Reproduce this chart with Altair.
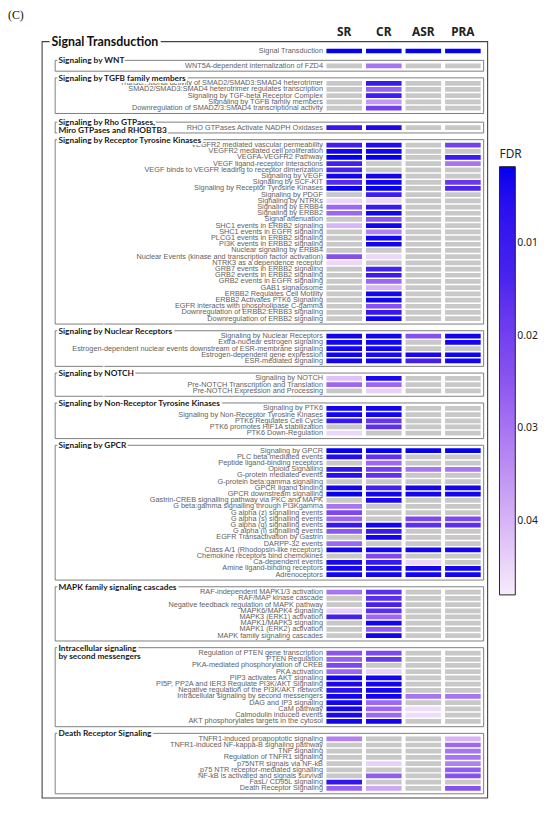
import altair as alt
import pandas as pd

# ---------------- data ----------------
columns = ["SR", "CR", "ASR", "PRA"]

group_titles = [
    "Signaling by WNT",
    "Signaling by TGFB family members",
    "Signaling by Rho GTPases,\nMiro GTPases and RHOBTB3",
    "Signaling by Receptor Tyrosine Kinases",
    "Signaling by Nuclear Receptors",
    "Signaling by NOTCH",
    "Signaling by Non-Receptor Tyrosine Kinases",
    "Signaling by GPCR",
    "MAPK family signaling cascades",
    "Intracellular signaling\nby second messengers",
    "Death Receptor Signaling",
]
group_sizes = [1, 5, 1, 29, 5, 3, 5, 21, 8, 12, 9]

top_pathway = "Signal Transduction"
top_fdr = [0.002, 0.002, 0.002, 0.002]

pathways = [
    # WNT
    "WNT5A-dependent internalization of FZD4",
    # TGFB
    "Transcriptional activity of SMAD2/SMAD3:SMAD4 heterotrimer",
    "SMAD2/SMAD3:SMAD4 heterotrimer regulates transcription",
    "Signaling by TGF-beta Receptor Complex",
    "Signaling by TGFB family members",
    "Downregulation of SMAD2/3:SMAD4 transcriptional activity",
    # Rho
    "RHO GTPases Activate NADPH Oxidases",
    # RTK
    "VEGFR2 mediated vascular permeability",
    "VEGFR2 mediated cell proliferation",
    "VEGFA-VEGFR2 Pathway",
    "VEGF ligand-receptor interactions",
    "VEGF binds to VEGFR leading to receptor dimerization",
    "Signaling by VEGF",
    "Signaling by SCF-KIT",
    "Signaling by Receptor Tyrosine Kinases",
    "Signaling by PDGF",
    "Signaling by NTRKs",
    "Signaling by ERBB4",
    "Signaling by ERBB2",
    "Signal attenuation",
    "SHC1 events in ERBB2 signaling",
    "SHC1 events in EGFR signaling",
    "PLCG1 events in ERBB2 signaling",
    "PI3K events in ERBB2 signaling",
    "Nuclear signaling by ERBB4",
    "Nuclear Events (kinase and transcription factor activation)",
    "NTRK3 as a dependence receptor",
    "GRB7 events in ERBB2 signaling",
    "GRB2 events in ERBB2 signaling",
    "GRB2 events in EGFR signaling",
    "GAB1 signalosome",
    "ERBB2 Regulates Cell Motility",
    "ERBB2 Activates PTK6 Signaling",
    "EGFR interacts with phospholipase C-gamma",
    "Downregulation of ERBB2:ERBB3 signaling",
    "Downregulation of ERBB2 signaling",
    # Nuclear receptors
    "Signaling by Nuclear Receptors",
    "Extra-nuclear estrogen signaling",
    "Estrogen-dependent nuclear events downstream of ESR-membrane signaling",
    "Estrogen-dependent gene expression",
    "ESR-mediated signaling",
    # NOTCH
    "Signaling by NOTCH",
    "Pre-NOTCH Transcription and Translation",
    "Pre-NOTCH Expression and Processing",
    # Non-receptor TK
    "Signaling by PTK6",
    "Signaling by Non-Receptor Tyrosine Kinases",
    "PTK6 Regulates Cell Cycle",
    "PTK6 promotes HIF1A stabilization",
    "PTK6 Down-Regulation",
    # GPCR
    "Signaling by GPCR",
    "PLC beta mediated events",
    "Peptide ligand-binding receptors",
    "Opioid Signalling",
    "G-protein mediated events",
    "G-protein beta:gamma signalling",
    "GPCR ligand binding",
    "GPCR downstream signalling",
    "Gastrin-CREB signalling pathway via PKC and MAPK",
    "G beta:gamma signalling through PI3Kgamma",
    "G alpha (z) signalling events",
    "G alpha (s) signalling events",
    "G alpha (q) signalling events",
    "G alpha (i) signalling events",
    "EGFR Transactivation by Gastrin",
    "DARPP-32 events",
    "Class A/1 (Rhodopsin-like receptors)",
    "Chemokine receptors bind chemokines",
    "Ca-dependent events",
    "Amine ligand-binding receptors",
    "Adrenoceptors",
    # MAPK
    "RAF-independent MAPK1/3 activation",
    "RAF/MAP kinase cascade",
    "Negative feedback regulation of MAPK pathway",
    "MAPK6/MAPK4 signaling",
    "MAPK3 (ERK1) activation",
    "MAPK1/MAPK3 signaling",
    "MAPK1 (ERK2) activation",
    "MAPK family signaling cascades",
    # Intracellular
    "Regulation of PTEN gene transcription",
    "PTEN Regulation",
    "PKA-mediated phosphorylation of CREB",
    "PKA activation",
    "PIP3 activates AKT signaling",
    "PI5P, PP2A and IER3 Regulate PI3K/AKT Signaling",
    "Negative regulation of the PI3K/AKT network",
    "Intracellular signaling by second messengers",
    "DAG and IP3 signaling",
    "CaM pathway",
    "Calmodulin induced events",
    "AKT phosphorylates targets in the cytosol",
    # Death receptor
    "TNFR1-induced proapoptotic signaling",
    "TNFR1-induced NF-kappa-B signaling pathway",
    "TNF signaling",
    "Regulation of TNFR1 signaling",
    "p75NTR signals via NF-kB",
    "p75 NTR receptor-mediated signalling",
    "NF-kB is activated and signals survival",
    "FasL/ CD95L signaling",
    "Death Receptor Signaling",
]

N = None
fdr_SR = [
    N,
    N, N, N, N, N,
    0.009,
    0.012, 0.003, 0.002, 0.012, 0.013, 0.003, 0.015, 0.002, N, 0.045,
    0.028, 0.028, N, 0.040, N, N, N, N, 0.024, 0.045, N, N, N, N, N, N, N, N, N,
    0.003, 0.003, 0.003, 0.003, 0.003,
    0.042, 0.028, N,
    0.003, 0.003, 0.009, N, 0.045,
    0.002, 0.005, N, 0.008, 0.006, N, 0.003, 0.002, N, 0.030, 0.022, 0.028,
    0.009, 0.025, N, 0.028, 0.003, N, 0.004, 0.003, 0.003,
    0.030, N, N, 0.044, 0.013, N, N, N,
    0.025, 0.027, 0.022, 0.028, 0.003, 0.004, 0.006, 0.003, 0.003, 0.003, 0.004, 0.003,
    0.032, N, N, N, N, N, N, 0.008, 0.027,
]
fdr_CR = [
    0.030,
    0.009, 0.027, 0.011, 0.036, 0.020,
    0.004,
    0.005, 0.003, 0.002, N, N, 0.003, 0.003, 0.002, 0.011, 0.045,
    0.010, 0.003, 0.025, 0.003, 0.032, 0.003, 0.003, N, 0.045, N, 0.013, 0.010, 0.028, 0.040, 0.003, 0.003, 0.024, 0.009, 0.003,
    0.003, 0.003, 0.003, 0.004, 0.003,
    0.004, 0.028, 0.044,
    0.003, 0.003, 0.018, 0.016, N,
    0.002, 0.017, 0.028, 0.020, 0.017, N, 0.013, 0.003, 0.004, N, N, N,
    0.003, 0.010, 0.003, N, 0.003, 0.022, 0.009, 0.003, 0.003,
    0.016, 0.016, 0.013, 0.016, 0.028, 0.003, 0.026, 0.003,
    0.022, 0.018, N, 0.044, 0.003, 0.003, 0.003, 0.003, 0.028, 0.028, 0.028, 0.003,
    N, N, N, N, 0.044, N, 0.026, N, 0.038,
]
fdr_ASR = [
    N,
    N, N, N, N, N,
    N,
    N, N, N, N, N, N, N, N, N, N,
    N, N, N, N, N, N, N, N, N, N, N, N, N, N, N, N, N, N, N,
    0.024, N, N, 0.004, 0.012,
    N, N, N,
    N, N, N, N, N,
    0.002, N, N, 0.030, N, N, 0.003, 0.003, N, N, N, 0.022,
    0.016, N, N, N, 0.003, N, 0.045, 0.003, 0.003,
    N, N, N, N, N, N, N, N,
    N, N, N, N, N, N, N, 0.030, N, 0.046, 0.046, N,
    N, N, N, N, N, N, N, N, N,
]
fdr_PRA = [
    N,
    N, N, N, N, N,
    N,
    0.020, N, 0.010, 0.030, N, N, 0.018, 0.014, N, N,
    N, N, N, N, N, N, N, N, N, N, N, N, N, N, N, N, N, N, N,
    0.003, 0.003, N, 0.003, 0.003,
    N, N, N,
    N, N, N, N, N,
    0.002, N, N, 0.030, N, N, 0.003, 0.003, N, N, N, 0.022,
    0.016, N, N, N, 0.003, N, N, 0.003, 0.003,
    N, N, N, N, N, N, N, N,
    N, N, N, N, N, N, N, 0.030, N, N, N, N,
    0.040, 0.028, 0.030, 0.030, 0.032, 0.026, 0.024, N, 0.024,
]

# ---------------- layout (reference-pixel units) ----------------
PITCH = 6.3
Y_TOP_ROW = 47.2
CELL_HALF = 2.4
BOX_PAD = 5.5
LABEL_RIGHT = 318.5        # right edge of the row labels (chart px)
SUB_LEFT, SUB_RIGHT = 47.7, 481.0
OUT_LEFT, OUT_RIGHT = 34.5, 485.0


def row_center(k, g):
    y = Y_TOP_ROW + PITCH * k
    if g >= 1:
        y += 8.7 + 11.5 * (g - 1)
    if g >= 3:
        y += 2.0
    return y


rows = [{"pathway": top_pathway, "g": 0, "yc": row_center(0, 0),
         **{c: v for c, v in zip(columns, top_fdr)}}]
k = 1
i = 0
boxes = []
for gi, (title, size) in enumerate(zip(group_titles, group_sizes), start=1):
    first = row_center(k, gi)
    for _ in range(size):
        rows.append({"pathway": pathways[i], "g": gi, "yc": row_center(k, gi),
                     "SR": fdr_SR[i], "CR": fdr_CR[i], "ASR": fdr_ASR[i], "PRA": fdr_PRA[i]})
        k += 1
        i += 1
    last = row_center(k - 1, gi)
    boxes.append({"title": title, "top": first - BOX_PAD, "bottom": last + BOX_PAD})

rows_df = pd.DataFrame(rows)
cells = rows_df.melt(id_vars=["pathway", "g", "yc"], value_vars=columns,
                     var_name="col", value_name="fdr")
cells["y1"] = cells["yc"] - CELL_HALF
cells["y2"] = cells["yc"] + CELL_HALF
cells_na = cells[cells["fdr"].isna()]
cells_val = cells[cells["fdr"].notna()]

box_df = pd.DataFrame(boxes)
title_rows = []
for b in boxes:
    for li, line in enumerate(b["title"].split("\n")):
        title_rows.append({"t": line, "y": b["top"] + 8.3 * li})
title_df = pd.DataFrame(title_rows)

outer_df = pd.DataFrame([{"top": 37.7, "bottom": boxes[-1]["bottom"] + 4.3,
                          "t": "Signal Transduction"}])

yscale = alt.Scale(domain=[8, 810], range=[0, 798], zero=False, nice=False)
xscale = alt.Scale(domain=columns, range=[322, 478], paddingInner=0.1, paddingOuter=0)

# descending domain so that the vertical legend shows small FDR at the top
color_scale = alt.Scale(domain=[0.048, 0.0017],
                        range=["#f6ecfc", "#c69cf4", "#8a55f0", "#4622ee", "#0000ee"])

LABEL_FONT = "Liberation Sans Narrow, Arial Narrow, Liberation Sans"
TITLE_FONT = "Lato"

na_layer = alt.Chart(cells_na).mark_rect(color="#c8c8c8").encode(
    x=alt.X("col:N", scale=xscale, axis=None),
    y=alt.Y("y1:Q", scale=yscale, axis=None),
    y2="y2:Q",
)
val_layer = alt.Chart(cells_val).mark_rect().encode(
    x=alt.X("col:N", scale=xscale, axis=None),
    y=alt.Y("y1:Q", scale=yscale, axis=None),
    y2="y2:Q",
    color=alt.Color("fdr:Q", scale=color_scale,
                    legend=alt.Legend(title="FDR", orient="none", legendX=497, legendY=138,
                                      direction="vertical", gradientLength=433,
                                      gradientThickness=16, values=[0.01, 0.02, 0.03, 0.04],
                                      format=".2f", titleFont="Noto Sans", titleFontSize=12,
                                      titleFontWeight="normal", titleColor="#222",
                                      labelFont="Noto Sans", labelFontSize=10.5,
                                      labelColor="#222", gradientStrokeColor="#222",
                                      gradientStrokeWidth=1, titlePadding=6)),
)

labels = alt.Chart(rows_df).mark_text(align="right", baseline="middle", font=LABEL_FONT,
                                      fontSize=7.4, color="#626262").encode(
    x=alt.value(LABEL_RIGHT),
    y=alt.Y("yc:Q", scale=yscale, axis=None),
    text="pathway:N",
)

headers = alt.Chart(pd.DataFrame({"col": columns})).mark_text(
    font="Noto Sans", fontSize=12, fontWeight="bold", color="#222", baseline="middle").encode(
    x=alt.X("col:N", scale=xscale, axis=None),
    y=alt.value(20),
    text="col:N",
)

sub_boxes = alt.Chart(box_df).mark_rect(fillOpacity=0, stroke="#707070", strokeWidth=0.9).encode(
    x=alt.value(SUB_LEFT), x2=alt.value(SUB_RIGHT),
    y=alt.Y("top:Q", scale=yscale, axis=None), y2="bottom:Q",
)
outer_box = alt.Chart(outer_df).mark_rect(fillOpacity=0, stroke="#444", strokeWidth=1.1).encode(
    x=alt.value(OUT_LEFT), x2=alt.value(OUT_RIGHT),
    y=alt.Y("top:Q", scale=yscale, axis=None), y2="bottom:Q",
)

sub_halo = alt.Chart(title_df).mark_text(align="left", baseline="middle", font=TITLE_FONT,
                                         fontSize=8.4, fontWeight="bold", fill="white",
                                         stroke="white", strokeWidth=4).encode(
    x=alt.value(51), y=alt.Y("y:Q", scale=yscale, axis=None), text="t:N")
sub_text = alt.Chart(title_df).mark_text(align="left", baseline="middle", font=TITLE_FONT,
                                         fontSize=8.4, fontWeight="bold", color="#1a1a1a").encode(
    x=alt.value(51), y=alt.Y("y:Q", scale=yscale, axis=None), text="t:N")

out_halo = alt.Chart(outer_df).mark_text(align="left", baseline="middle", font=TITLE_FONT,
                                         fontSize=12.5, fontWeight="bold", fill="white",
                                         stroke="white", strokeWidth=6).encode(
    x=alt.value(44), y=alt.Y("top:Q", scale=yscale, axis=None), text="t:N")
out_text = alt.Chart(outer_df).mark_text(align="left", baseline="middle", font=TITLE_FONT,
                                         fontSize=12.5, fontWeight="bold", color="#111").encode(
    x=alt.value(44), y=alt.Y("top:Q", scale=yscale, axis=None), text="t:N")

panel_tag = alt.Chart(pd.DataFrame({"t": ["(C)"]})).mark_text(
    align="left", baseline="middle", font="Liberation Serif", fontSize=12, color="#111").encode(
    x=alt.value(0), y=alt.value(3), text="t:N")

chart = alt.layer(
    outer_box, sub_boxes, na_layer, val_layer, labels, headers,
    sub_halo, sub_text, out_halo, out_text, panel_tag,
).properties(
    width=540, height=798, padding=0,
    autosize=alt.AutoSizeParams(type="none"),
).configure_view(stroke=None)

chart.save("out.html", embed_options={"renderer": "svg", "actions": False})
